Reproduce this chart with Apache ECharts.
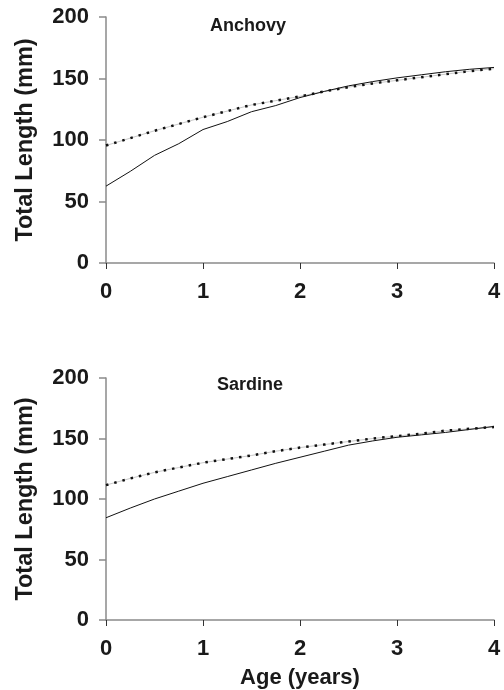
<!DOCTYPE html>
<html>
<head>
<meta charset="utf-8">
<script src="https://cdn.jsdelivr.net/npm/echarts@6/dist/echarts.min.js"></script>
<style>html,body{margin:0;padding:0;background:#fff;}#c{width:504px;height:690px;}</style>
</head>
<body>
<div id="c"></div>
<script>
const ages = [0, 0.25, 0.5, 0.75, 1, 1.25, 1.5, 1.75, 2, 2.25, 2.5, 2.75, 3, 3.25, 3.5, 3.75, 4];
const anchovyObserved = [62.5, 74.5, 87.5, 97, 108.5, 115, 123, 128, 134.5, 139.5, 144, 147.5, 150.5, 153, 155.5, 157.5, 159];
const anchovyFitted = [95.5, 101.5, 107.5, 113, 118.5, 123.5, 128.5, 132, 135.5, 139.5, 143, 146, 148.5, 151, 153.5, 156, 158];
const sardineObserved = [84.5, 92.5, 100, 106.5, 113, 118.5, 124, 129.5, 134.5, 139.5, 144.5, 148, 151, 153, 155, 157.5, 160];
const sardineFitted = [111.5, 117, 122, 126, 130, 133, 136, 139.5, 142.5, 145, 147.5, 150, 152, 154, 156.5, 158, 159.5];
const xTicks = [0, 1, 2, 3, 4];
const yTicks = [0, 50, 100, 150, 200];
const panelTitles = ['Anchovy', 'Sardine'];
const xName = 'Age (years)';
const yName = 'Total Length (mm)';

const pairs = (xs, ys) => xs.map((x, i) => [x, ys[i]]);
const FONT = '"Liberation Sans", Arial, sans-serif';
const TXT = '#1a1a1a';
const AX = '#8a8a8a';

function xAxis(idx, withName) {
  return {
    type: 'value', gridIndex: idx, min: xTicks[0], max: xTicks[xTicks.length - 1], interval: 1,
    axisLine: { show: true, lineStyle: { color: AX, width: 1.5 } },
    axisTick: { show: true, inside: false, length: 6, lineStyle: { color: '#333', width: 1 } },
    axisLabel: { color: TXT, fontFamily: FONT, fontWeight: 'bold', fontSize: 22, margin: 18 },
    splitLine: { show: false },
    name: withName ? xName : '', nameLocation: 'middle', nameGap: 47,
    nameTextStyle: { color: TXT, fontFamily: FONT, fontWeight: 'bold', fontSize: 22 }
  };
}
function yAxis(idx) {
  return {
    type: 'value', gridIndex: idx, min: yTicks[0], max: yTicks[yTicks.length - 1], interval: 50,
    axisLine: { show: true, lineStyle: { color: AX, width: 1.5 } },
    axisTick: { show: true, inside: false, length: 7, lineStyle: { color: AX, width: 1.5 } },
    axisLabel: { color: TXT, fontFamily: FONT, fontWeight: 'bold', fontSize: 22, margin: 17 },
    splitLine: { show: false },
    name: yName, nameLocation: 'middle', nameGap: 68,
    nameTextStyle: { color: TXT, fontFamily: FONT, fontWeight: 'bold', fontSize: 23.5 }
  };
}
function obs(idx, data) {
  return { type: 'line', xAxisIndex: idx, yAxisIndex: idx, data: data, showSymbol: false, smooth: false,
    lineStyle: { color: '#111', width: 1, type: 'solid' }, z: 3 };
}
function fit(idx, data) {
  return { type: 'line', xAxisIndex: idx, yAxisIndex: idx, data: data, showSymbol: false, smooth: false,
    lineStyle: { color: '#111', width: 2.5, type: [2.5, 6], cap: 'butt' }, z: 2 };
}
function fitThin(idx, data) {
  return { type: 'line', xAxisIndex: idx, yAxisIndex: idx, data: data, showSymbol: false, smooth: false,
    lineStyle: { color: '#bbb', width: 0.8, type: 'solid' }, z: 1 };
}

const chart = echarts.init(document.getElementById('c'), null, { renderer: 'canvas' });
chart.setOption({
  animation: false,
  backgroundColor: '#fff',
  title: [
    { text: panelTitles[0], left: 205, top: 12, textStyle: { color: TXT, fontFamily: FONT, fontWeight: 'bold', fontSize: 18 } },
    { text: panelTitles[1], left: 212, top: 371, textStyle: { color: TXT, fontFamily: FONT, fontWeight: 'bold', fontSize: 18 } }
  ],
  grid: [
    { left: 106, right: 10, top: 17, height: 246 },
    { left: 106, right: 10, top: 378, height: 243 }
  ],
  xAxis: [xAxis(0, false), xAxis(1, true)],
  yAxis: [yAxis(0), yAxis(1)],
  series: [
    fitThin(0, pairs(ages, anchovyFitted)),
    fit(0, pairs(ages, anchovyFitted)),
    obs(0, pairs(ages, anchovyObserved)),
    fitThin(1, pairs(ages, sardineFitted)),
    fit(1, pairs(ages, sardineFitted)),
    obs(1, pairs(ages, sardineObserved))
  ]
});
</script>
</body>
</html>
